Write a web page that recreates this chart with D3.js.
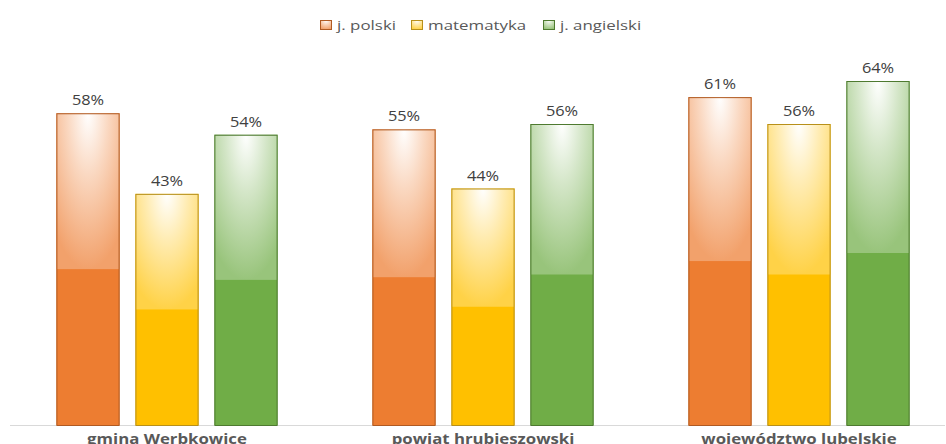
<!DOCTYPE html>
<html>
<head>
<meta charset="utf-8">
<script src="https://cdn.jsdelivr.net/npm/d3@7"></script>
<style>
  body { margin: 0; background: #fff; }
  text { font-family: "Open Sans", sans-serif; }
</style>
</head>
<body>
<div class="graph"></div>
<script>
var categories = ['gmina Werbkowice', 'powiat hrubieszowski', 'województwo lubelskie'];
var seriesNames = ['j. polski', 'matematyka', 'j. angielski'];
var polski = [58, 55, 61];
var matematyka = [43, 44, 56];
var angielski = [54, 56, 64];
var seriesValues = [polski, matematyka, angielski];

var colors = ['#ED7D31', '#FFC000', '#70AD47'];
var strokes = ['#B05A22', '#B8901A', '#4E7A30'];

var size = { width: 946, height: 444 };

var svg = d3.select('.graph').append('svg')
  .attr('width', size.width)
  .attr('height', size.height);

var defs = svg.append('defs');
colors.forEach(function(c, i) {
  var g = defs.append('radialGradient')
    .attr('id', 'grad' + i)
    .attr('gradientUnits', 'objectBoundingBox')
    .attr('cx', 0).attr('cy', 0).attr('r', 1)
    .attr('gradientTransform', 'translate(0.5,0) scale(0.8,1)');
  g.append('stop').attr('offset', 0).attr('stop-color', '#ffffff');
  g.append('stop').attr('offset', 0.4).attr('stop-color', d3.interpolateRgb('#ffffff', c)(0.3));
  g.append('stop').attr('offset', 1).attr('stop-color', d3.interpolateRgb('#ffffff', c)(0.72));
});

var x0 = d3.scaleBand().domain(categories).range([9, 957]).paddingInner(0.3).paddingOuter(0.15);
var x1 = d3.scaleBand().domain(seriesNames).range([0, x0.bandwidth()]).paddingInner(0.2);
var y = d3.scaleLinear().domain([0, 70]).range([425, 425 - 70 * 5.375]);

// axis line
svg.append('line')
  .attr('x1', 10).attr('x2', 945)
  .attr('y1', y(0) + 0.5).attr('y2', y(0) + 0.5)
  .attr('stroke', '#D9D9D9').attr('stroke-width', 1);

var groups = svg.selectAll('.group').data(categories).enter().append('g')
  .attr('class', 'group')
  .attr('transform', function(d) { return 'translate(' + x0(d) + ',0)'; });

var bars = groups.selectAll('.bar').data(function(d, ci) {
  return seriesNames.map(function(s, si) { return { s: s, si: si, v: seriesValues[si][ci] }; });
}).enter().append('g').attr('class', 'bar');

// solid lower part
bars.append('rect')
  .attr('x', function(d) { return x1(d.s); })
  .attr('y', function(d) { return y(d.v); })
  .attr('width', x1.bandwidth())
  .attr('height', function(d) { return y(0) - y(d.v); })
  .attr('fill', function(d) { return colors[d.si]; });

// shaded upper half
bars.append('rect')
  .attr('x', function(d) { return x1(d.s); })
  .attr('y', function(d) { return y(d.v); })
  .attr('width', x1.bandwidth())
  .attr('height', function(d) { return (y(0) - y(d.v)) / 2; })
  .attr('fill', function(d) { return 'url(#grad' + d.si + ')'; });

// outline
bars.append('rect')
  .attr('x', function(d) { return x1(d.s) + 0.5; })
  .attr('y', function(d) { return y(d.v) + 0.5; })
  .attr('width', x1.bandwidth() - 1)
  .attr('height', function(d) { return y(0) - y(d.v); })
  .attr('fill', 'none')
  .attr('stroke', function(d) { return strokes[d.si]; })
  .attr('stroke-width', 1);

// the reference text is drawn wide, so stretch it horizontally
function wide(sel, x, yv, sx) {
  sel.attr('transform', function(d, i) {
    return 'translate(' + x(d, i) + ',' + yv(d, i) + ') scale(' + sx + ',1)';
  });
}

groups.selectAll('.val').data(function(d, ci) {
  return seriesNames.map(function(s, si) { return { s: s, v: seriesValues[si][ci] }; });
}).enter().append('text')
  .attr('class', 'val')
  .attr('text-anchor', 'middle')
  .attr('font-size', 14)
  .attr('fill', '#404040')
  .text(function(d) { return d.v + '%'; })
  .call(wide, function(d) { return x1(d.s) + x1.bandwidth() / 2; },
              function(d) { return y(d.v) - 8; }, 1.17);

svg.selectAll('.cat').data(categories).enter().append('text')
  .attr('class', 'cat')
  .attr('text-anchor', 'middle')
  .attr('font-size', 15)
  .attr('font-weight', 'bold')
  .attr('fill', '#595959')
  .text(function(d) { return d; })
  .call(wide, function(d) { return x0(d) + x0.bandwidth() / 2; },
              function() { return 444; }, 1.12);

// legend
var legendX = [320, 411, 543];
var legend = svg.selectAll('.legend').data(seriesNames).enter().append('g')
  .attr('class', 'legend')
  .attr('transform', function(d, i) { return 'translate(' + legendX[i] + ',20)'; });
legend.append('rect')
  .attr('width', 11).attr('height', 9)
  .attr('x', 0.5).attr('y', 0.5)
  .attr('fill', function(d, i) { return 'url(#grad' + i + ')'; })
  .attr('stroke', function(d, i) { return strokes[i]; });
legend.append('text')
  .attr('font-size', 13)
  .attr('fill', '#595959')
  .text(function(d) { return d; })
  .call(wide, function() { return 17; }, function() { return 10; }, 1.3);
</script>
</body>
</html>
